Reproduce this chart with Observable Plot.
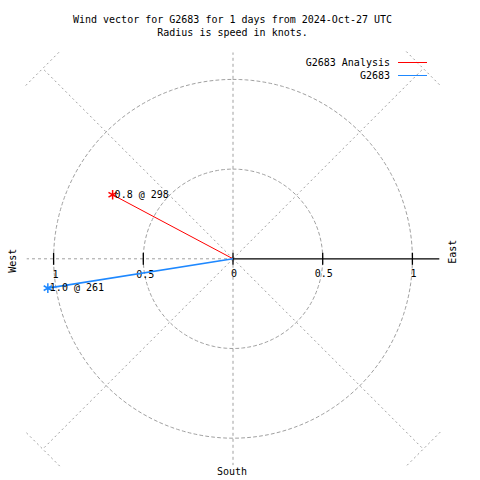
<!DOCTYPE html>
<html><head><meta charset="utf-8">
<script src="https://cdn.jsdelivr.net/npm/d3@7"></script>
<script src="https://cdn.jsdelivr.net/npm/@observablehq/plot@0.6"></script>
<style>
body{margin:0;background:#fff}
#wrap{position:relative;width:480px;height:480px;background:#fff}
.lgtext{position:absolute;font:10px "DejaVu Sans Mono",monospace;color:#000;line-height:12px;text-align:right;white-space:pre}
.lgline{position:absolute;height:1px}
</style>
</head><body><div id="wrap"></div>
<script>
// ---- data ----
const titleLines = ["Wind vector for G2683 for 1 days from 2024-Oct-27 UTC", "Radius is speed in knots."];
const seriesNames = ["G2683 Analysis", "G2683"];
const seriesColors = ["#ff0000", "#1e88ff"];
const speeds = [0.76, 1.045];        // knots
const directions = [298, 261];       // degrees clockwise from north
const vectorLabels = ["0.8 @ 298", "1.0 @ 261"];
const ringRadii = [0.5, 1];
const axisAngles = [0, 180, 270];
const diagonalAngles = [45, 135, 225, 315];
const axisExtent = 1.15;
const diagonalExtent = 1.5;
const westTicks = [-1, -0.5];
const westTickLabels = ["1", "0.5"];
const eastTicks = [0, 0.5, 1];
const eastTickLabels = ["0", "0.5", "1"];
const compassNames = ["West", "East", "South"];

// ---- helpers ----
const rad = d => d * Math.PI / 180;
const polar = (r, deg) => ({x: r * Math.sin(rad(deg)), y: r * Math.cos(rad(deg))});

const ringPts = ringRadii.flatMap(r => d3.range(0, 361, 2).map(a => ({r, ...polar(r, a)})));
const axisSpokes = axisAngles.map(a => ({x1: 0, y1: 0, x2: polar(axisExtent, a).x, y2: polar(axisExtent, a).y}));
const diagSpokes = diagonalAngles.map(a => ({x1: 0, y1: 0, x2: polar(diagonalExtent, a).x, y2: polar(diagonalExtent, a).y}));
const crossHalf = 0.134;
const diagCross = diagonalAngles.map(a => {
  const e = polar(diagonalExtent, a);
  const px = Math.cos(rad(a)), py = -Math.sin(rad(a));
  return {x1: e.x - crossHalf * px, y1: e.y - crossHalf * py, x2: e.x + crossHalf * px, y2: e.y + crossHalf * py};
});
const vectors = speeds.map((s, i) => ({...polar(s, directions[i]), color: seriesColors[i], label: vectorLabels[i], w: i === 0 ? 1 : 1.6}));
const allTicks = [...westTicks, ...eastTicks];
const vtick = {draw(ctx) { ctx.moveTo(0, -6); ctx.lineTo(0, 6); }};

const K = 179.4, cx = 232.5, cy = 258.3, W = 480, H = 480;
const font = "DejaVu Sans Mono, monospace";
const grey = "#a0a0a0";

const chart = Plot.plot({
  width: W, height: H,
  marginTop: 0, marginBottom: 0, marginLeft: 0, marginRight: 0,
  x: {domain: [-cx / K, (W - cx) / K], axis: null},
  y: {domain: [-(H - cy) / K, cy / K], axis: null},
  style: {fontFamily: font, fontSize: "10px", background: "#fff", color: "#000"},
  marks: [
    Plot.line(ringPts, {x: "x", y: "y", z: "r", stroke: grey, strokeDasharray: "3,3", strokeWidth: 1}),
    Plot.link(axisSpokes, {x1: "x1", y1: "y1", x2: "x2", y2: "y2", stroke: grey, strokeDasharray: "3,3", strokeWidth: 1}),
    Plot.link(diagSpokes, {x1: "x1", y1: "y1", x2: "x2", y2: "y2", stroke: grey, strokeDasharray: "2,3", strokeWidth: 1}),
    Plot.link(diagCross, {x1: "x1", y1: "y1", x2: "x2", y2: "y2", stroke: grey, strokeDasharray: "2,3", strokeWidth: 1}),
    Plot.link([{x1: 0, x2: axisExtent}], {x1: "x1", x2: "x2", y1: () => 0, y2: () => 0, stroke: "#000", strokeWidth: 1.3}),
    Plot.dot(allTicks, {x: d => d, y: () => 0, symbol: vtick, stroke: "#000", strokeWidth: 1.3, fill: "none"}),
    Plot.text(westTicks, {x: d => d, y: () => 0, text: (d, i) => westTickLabels[i], dy: 16, dx: 2, fontSize: 10}),
    Plot.text(eastTicks, {x: d => d, y: () => 0, text: (d, i) => eastTickLabels[i], dy: 15, dx: 1, fontSize: 10}),
    Plot.link(vectors, {x1: () => 0, y1: () => 0, x2: "x", y2: "y", stroke: "color", strokeWidth: "w"}),
    Plot.dot(vectors, {x: "x", y: "y", symbol: "asterisk", r: 4.5, stroke: "color", strokeWidth: 1.5}),
    Plot.text(vectors, {x: "x", y: "y", text: "label", textAnchor: "start", dx: 2, fontSize: 10}),
    Plot.text([compassNames[0]], {x: () => -axisExtent, y: () => 0, text: d => d, rotate: -90, dx: -14, dy: 2, fontSize: 10}),
    Plot.text([compassNames[1]], {x: () => axisExtent, y: () => 0, text: d => d, rotate: -90, dx: 13, dy: -7, fontSize: 10}),
    Plot.text([compassNames[2]], {x: () => 0, y: () => -axisExtent, text: d => d, dy: 7, dx: -1, fontSize: 10}),
    Plot.text([titleLines[0]], {frameAnchor: "top", text: d => d, dx: -8, dy: 15, fontSize: 10}),
    Plot.text([titleLines[1]], {frameAnchor: "top", text: d => d, dx: -8, dy: 28, fontSize: 10})
  ]
});
const wrap = document.getElementById("wrap");
wrap.appendChild(chart);

// legend overlay (top right)
seriesNames.forEach((name, i) => {
  const t = document.createElement("div");
  t.className = "lgtext";
  t.textContent = name;
  t.style.right = "90px";
  t.style.top = (57 + i * 12.5) + "px";
  wrap.appendChild(t);
  const l = document.createElement("div");
  l.className = "lgline";
  l.style.left = "398px";
  l.style.width = "29px";
  l.style.top = (62 + i * 12.5) + "px";
  l.style.background = seriesColors[i];
  wrap.appendChild(l);
});
</script>
</body></html>
